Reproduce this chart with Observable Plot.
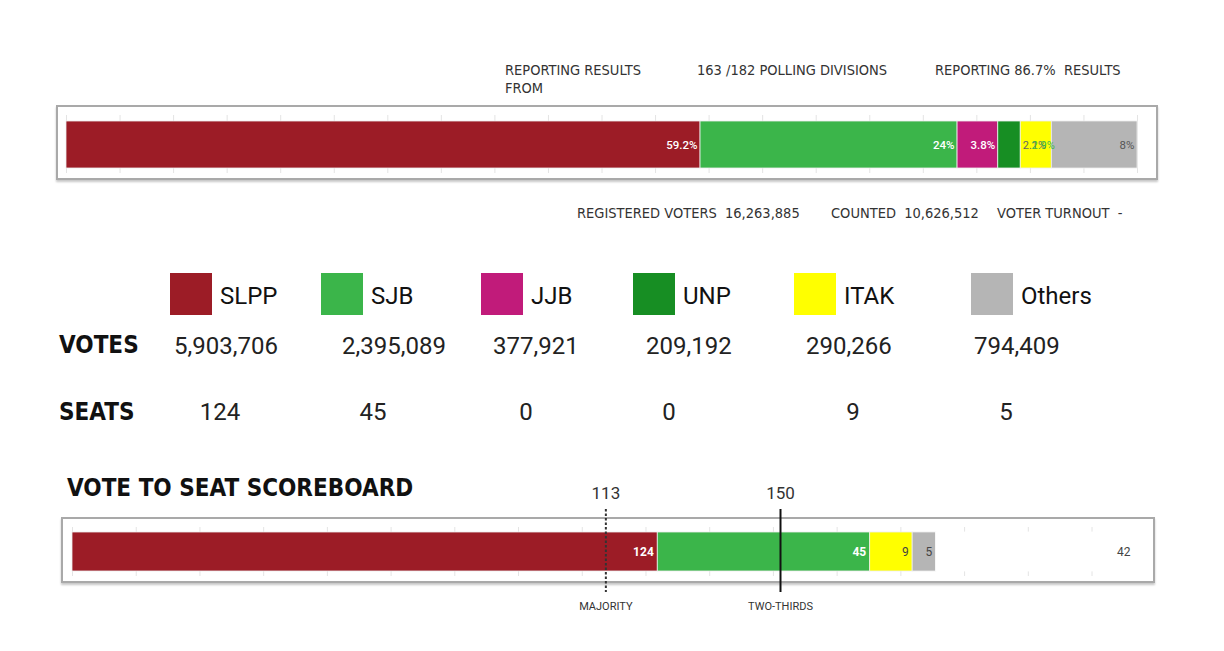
<!DOCTYPE html>
<html><head><meta charset="utf-8">
<script src="https://cdn.jsdelivr.net/npm/d3@7"></script>
<script src="https://cdn.jsdelivr.net/npm/@observablehq/plot@0.6"></script>
<style>
body{margin:0;background:#fff;width:1224px;height:651px;position:relative;overflow:hidden;font-family:Roboto,sans-serif;color:#222}
.abs{position:absolute;white-space:nowrap}
.cond{font-family:"Liberation Sans Narrow","DejaVu Sans Condensed",sans-serif;font-size:14.5px;color:#333;line-height:18px}
.box{position:absolute;border:2px solid #a9a9a9;box-shadow:0 2px 2px rgba(0,0,0,.22);background:#fff;box-sizing:border-box}
.head{font-family:"Liberation Sans Narrow","DejaVu Sans Condensed",sans-serif;font-weight:bold;font-size:24px;color:#111;line-height:28px}
.sw{position:absolute;width:42px;height:42px}
.lg{font-family:Roboto,sans-serif;font-size:24px;color:#111;line-height:28px}
.num{font-family:Roboto,sans-serif;font-size:24px;color:#222;line-height:28px}
.plot{position:absolute;left:0}
</style></head>
<body>
<script>
// ---- data ----
const parties = ["SLPP","SJB","JJB","UNP","ITAK","Others"];
const partyColors = ["#9c1c26","#3bb54a","#c11b7a","#178e23","#ffff00","#b5b5b5"];
const votes = [5903706,2395089,377921,209192,290266,794409];
const votePct = [59.2,24.0,3.8,2.1,2.9,8.0];
const votePctLabels = ["59.2%","24%","3.8%","2.1%","2.9%","8%"];
const seats = [124,45,0,0,9,5];
const seatsTotal = 225;
const majority = 113;
const twoThirds = 150;
const pctGrid = d3.range(0, 101, 5);
const seatGrid = d3.range(0, 217, 13.5);
const topInfo = ["REPORTING RESULTS<br>FROM", "163 /182 POLLING DIVISIONS", "REPORTING 86.7%&nbsp; RESULTS"];
const bottomInfo = ["REGISTERED VOTERS&nbsp; 16,263,885", "COUNTED&nbsp; 10,626,512", "VOTER TURNOUT&nbsp; -"];

// ---- layout (positions only) ----
const topInfoX = [505, 697, 935];
const bottomInfoX = [577, 831, 997];
const legendX = [170, 321, 481, 633, 794, 971];
const votesX = [174, 342, 493, 646, 806, 974];
const seatsCX = [220, 373, 526, 669, 853, 1006];

function add(html, cls, left, top, extra = "") {
  const d = document.createElement("div");
  d.className = "abs " + cls;
  d.style.left = left + "px"; d.style.top = top + "px";
  if (extra) d.style.cssText += extra;
  d.innerHTML = html;
  document.body.appendChild(d);
  return d;
}

topInfo.forEach((t, i) => add(t, "cond", topInfoX[i], 61));
bottomInfo.forEach((t, i) => add(t, "cond", bottomInfoX[i], 204));

// boxes
add("", "box", 56, 105, "width:1102px;height:75px");
add("", "box", 61, 517, "width:1094px;height:66px");

// ---- top bar ----
const topData = parties.map((p, i) => ({party: p, pct: votePct[i], label: votePctLabels[i]}));
const color = {domain: [...parties, "Remaining"], range: [...partyColors, "#ffffff"]};
const topPlot = Plot.plot({
  width: 1224, height: 85,
  marginLeft: 66, marginRight: 87, marginTop: 21, marginBottom: 17,
  x: {domain: [0, 100], axis: null},
  color,
  style: {background: "transparent", overflow: "visible"},
  marks: [
    Plot.ruleX(pctGrid, {stroke: "#e4e4e4", insetTop: -6, insetBottom: -5}),
    Plot.barX(topData, Plot.stackX({x: "pct", fill: "party", order: null, stroke: "#eee", strokeWidth: 0.8})),
    Plot.text(topData, Plot.stackX2({x: "pct", order: null, text: d => ["SLPP","SJB","JJB"].includes(d.party) ? d.label : null,
      textAnchor: "end", dx: -3, fill: "#fff", fontSize: 11.5, fontWeight: 500, fontFamily: "Roboto"})),
    Plot.text(topData, Plot.stackX2({x: "pct", order: null, text: d => d.party === "Others" ? d.label : null,
      textAnchor: "end", dx: -3, fill: "#555", fontSize: 11.5, fontFamily: "Roboto"})),
    Plot.text(topData, Plot.stackX2({x: "pct", order: null, text: d => d.party === "UNP" ? d.label : null,
      textAnchor: "start", dx: 2, fill: "#666", fontSize: 11, fontFamily: "Roboto"})),
    Plot.text(topData, Plot.stackX2({x: "pct", order: null, text: d => d.party === "ITAK" ? d.label : null,
      textAnchor: "end", dx: 3, fill: "#3bb54a", fontSize: 11, fontFamily: "Roboto"}))
  ]
});
topPlot.classList.add("plot");
topPlot.style.top = "100px";
document.body.appendChild(topPlot);

// ---- legend / votes / seats ----
parties.forEach((p, i) => {
  add("", "sw", legendX[i], 273, `background:${partyColors[i]}`);
  add(p, "lg", legendX[i] + 50, 282);
  add(d3.format(",")(votes[i]), "num", votesX[i], 332);
  add(String(seats[i]), "num", seatsCX[i] - 40, 398, "width:80px;text-align:center");
});
add("VOTES", "head", 59, 331);
add("SEATS", "head", 59, 398);
add("VOTE TO SEAT SCOREBOARD", "head", 67, 474);

// ---- seat scoreboard ----
const seatData = parties.map((p, i) => ({party: p, seats: seats[i]}));
seatData.push({party: "Remaining", seats: seatsTotal - d3.sum(seats)});
const white = new Set(["SLPP", "SJB"]);
const seatPlot = Plot.plot({
  width: 1224, height: 140,
  marginLeft: 72, marginRight: 90, marginTop: 52, marginBottom: 49,
  x: {domain: [0, seatsTotal], axis: null},
  color,
  style: {background: "transparent", overflow: "visible"},
  marks: [
    Plot.ruleX(seatGrid, {stroke: "#e4e4e4", insetTop: -5, insetBottom: -5}),
    Plot.barX(seatData, Plot.stackX({x: "seats", fill: "party", order: null,
      stroke: d => d.party === "Remaining" ? "#ffffff" : "#eeeeee", strokeWidth: 0.8})),
    Plot.text(seatData, Plot.stackX2({x: "seats", order: null, text: d => white.has(d.party) && d.seats > 0 ? String(d.seats) : null,
      textAnchor: "end", dx: -4, fill: "#fff", fontSize: 12, fontWeight: "bold", fontFamily: "Roboto"})),
    Plot.text(seatData, Plot.stackX2({x: "seats", order: null, text: d => !white.has(d.party) && d.seats > 0 ? String(d.seats) : null,
      textAnchor: "end", dx: -4, fill: "#444", fontSize: 12, fontFamily: "Roboto"})),
    Plot.ruleX([majority], {stroke: "#333", strokeWidth: 2, strokeDasharray: "2.5,2", insetTop: -23, insetBottom: -21}),
    Plot.ruleX([twoThirds], {stroke: "#111", strokeWidth: 2, insetTop: -23, insetBottom: -21}),
    Plot.text([majority, twoThirds], {x: d => d, text: d => String(d), frameAnchor: "top", dy: -46, fontSize: 17, fill: "#333", fontFamily: "Roboto"}),
    Plot.text([[majority, "MAJORITY"], [twoThirds, "TWO-THIRDS"]], {x: d => d[0], text: d => d[1], frameAnchor: "bottom", dy: 38, fontSize: 11, fill: "#333", fontFamily: "Roboto"})
  ]
});
seatPlot.classList.add("plot");
seatPlot.style.top = "480px";
document.body.appendChild(seatPlot);
</script>
</body></html>
